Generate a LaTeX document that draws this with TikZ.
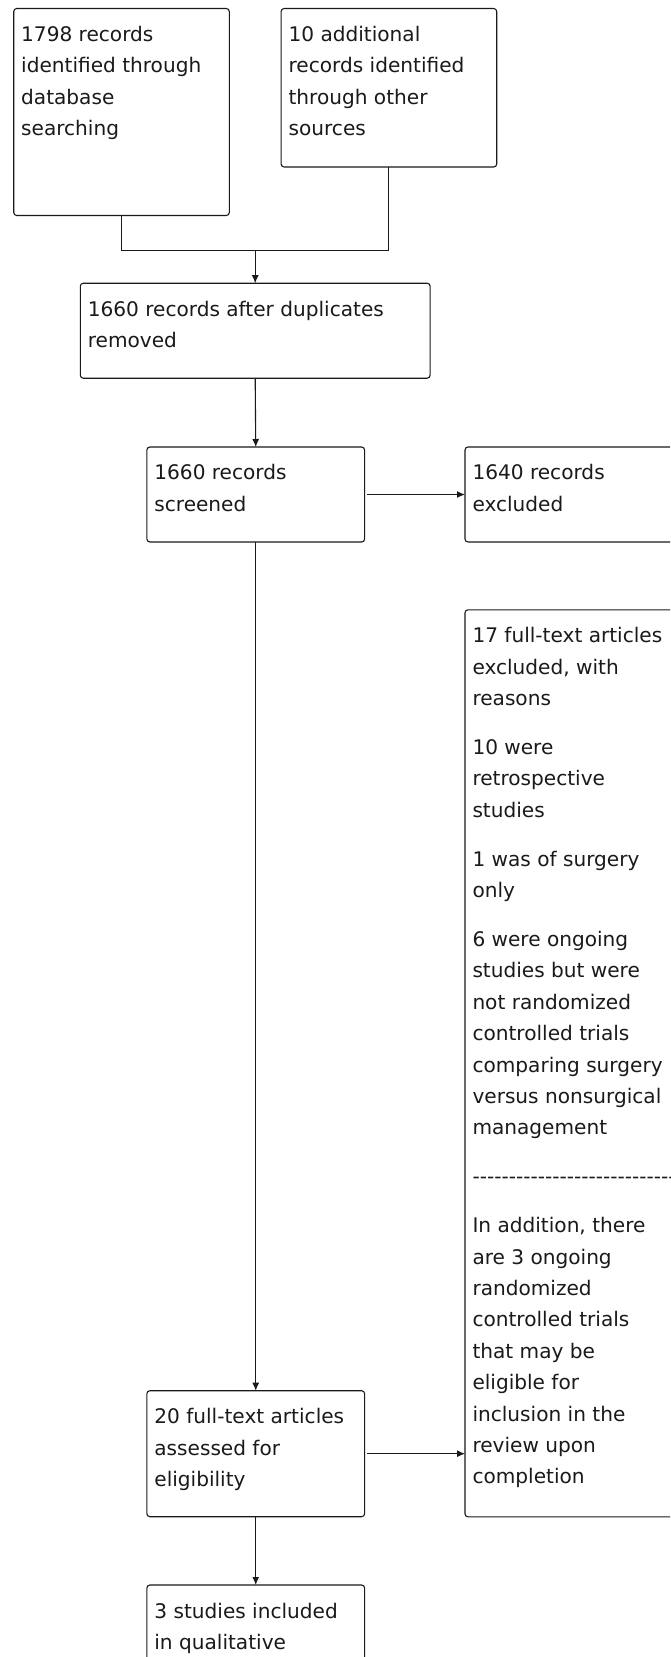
\documentclass[tikz,border=0pt]{standalone}
\usepackage{fontspec}
\setmainfont{DejaVu Sans}
\usetikzlibrary{arrows.meta}
\newcommand{\bxt}[3]{\begin{minipage}[t][#2][t]{#1}\raggedright\leftskip=7.5pt\vspace*{11pt}\strut\parskip=17.5pt #3\end{minipage}}
\newcommand{\hh}{\mbox{-}}
\definecolor{ink}{HTML}{1A1A1A}
\tikzset{
  box/.style={draw=ink, rounded corners=3pt, inner sep=0pt, outer sep=0pt, line width=1.1pt,
    anchor=north west, text=ink, font=\fontsize{20.1pt}{31.4pt}\selectfont},
  conn/.style={draw=ink, line width=1.1pt},
  arr/.style={conn, -{Latex[length=8pt,width=7pt]}}
}
\begin{document}
\begin{tikzpicture}[x=1pt,y=-1pt]
\useasboundingbox (0,0) rectangle (670,1657);
\clip (0,0) rectangle (670,1657);
\fill[white] (0,0) rectangle (670,1657);
\node[box] (b1) at (13.7,8.5) {\bxt{215.6pt}{207pt}{1798 records\\identified through\\database\\searching}};
\node[box] (b2) at (281.1,8.5) {\bxt{215.6pt}{158.5pt}{10 additional\\records identified\\through other\\sources}};
\node[box] (b3) at (80.3,283.2) {\bxt{349.8pt}{95pt}{1660 records after duplicates\\removed}};
\node[box] (b4) at (146.9,447) {\bxt{217.7pt}{95pt}{1660 records\\screened}};
\node[box] (b5) at (465,447) {\bxt{240pt}{95pt}{1640 records\\excluded}};
\node[box] (b6) at (465,609.8) {\bxt{240pt}{907pt}{17 full-text articles\\excluded, with\\reasons\par
10 were\\retrospective\\studies\par
1 was of surgery\\only\par
6 were ongoing\\studies but were\\not randomized\\controlled trials\\comparing surgery\\versus nonsurgical\\management\par
\noindent\hh\hh\hh\hh\hh\hh\hh\hh\hh\hh\hh\hh\hh\hh\hh\hh\hh\hh\hh\hh\hh\hh\hh\hh\hh\hh\hh\hh\hh\hh\par
In addition, there\\are 3 ongoing\\randomized\\controlled trials\\that may be\\eligible for\\inclusion in the\\review upon\\completion}};
\node[box] (b7) at (146.9,1390.7) {\bxt{217.7pt}{126pt}{20 full-text articles\\assessed for\\eligibility}};
\node[box] (b8) at (146.9,1585) {\bxt{217.7pt}{130pt}{3 studies included\\in qualitative}};
\coordinate (j) at (b3.north |- 0,250.5);
\draw[conn] (b1.south) |- (j) -| (b2.south);
\draw[arr] (j) -- (b3.north);
\draw[arr] (b3.south) -- (b4.north);
\draw[arr] ([xshift=2pt]b4.east) -- (b4.east -| b5.west);
\draw[arr] (b4.south) -- (b7.north);
\draw[arr] ([xshift=2pt]b7.east) -- (b7.east -| b6.west);
\draw[arr] (b7.south) -- (b8.north);
\end{tikzpicture}
\end{document}
